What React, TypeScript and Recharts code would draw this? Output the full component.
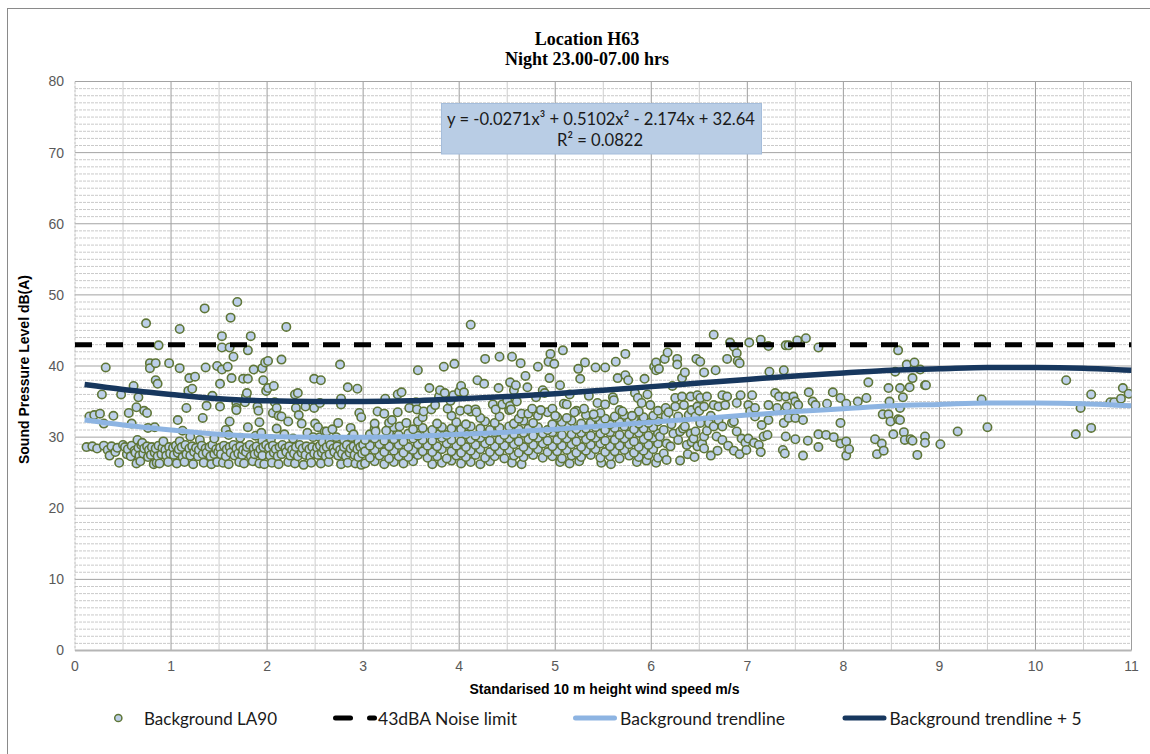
import { ComposedChart, Scatter, Line, XAxis, YAxis, CartesianGrid } from 'recharts'

// axis ticks
const xTicks = [0, 1, 2, 3, 4, 5, 6, 7, 8, 9, 10, 11]
const yTicks = [0, 10, 20, 30, 40, 50, 60, 70, 80]
const halfGridX = [0.5, 1.5, 2.5, 3.5, 4.5, 5.5, 6.5, 7.5, 8.5, 9.5, 10.5]
const minorGridY = Array.from({ length: 79 }, (_, i) => i + 1).filter((v) => v % 10 !== 0)

// Background LA90 measurements [wind m/s, dB(A)]
const la90Below1: [number, number][] = [
  [0.12, 28.6], [0.15, 32.9], [0.18, 28.7], [0.2, 33.1], [0.23, 28.4], [0.26, 33.3], [0.28, 36.0], [0.3, 28.8], [0.3, 31.9], [0.32, 39.8],
  [0.34, 28.2], [0.36, 27.4], [0.38, 28.7], [0.4, 33.0], [0.42, 27.9], [0.44, 28.5], [0.46, 26.4], [0.48, 36.0], [0.5, 28.9],
  [0.52, 28.6], [0.54, 27.6], [0.55, 28.3], [0.56, 33.4], [0.58, 27.3], [0.59, 28.8], [0.59, 31.9], [0.61, 37.2], [0.62, 28.1], [0.63, 27.8],
  [0.64, 26.3], [0.64, 34.2], [0.65, 29.6], [0.66, 28.5], [0.66, 35.6], [0.67, 27.4], [0.68, 26.6], [0.69, 28.9], [0.7, 29.2], [0.71, 27.7],
  [0.72, 28.4], [0.72, 33.7], [0.74, 46.0], [0.75, 28.7], [0.75, 33.4], [0.76, 27.2], [0.76, 31.3], [0.77, 28.2], [0.78, 40.4], [0.78, 39.7],
  [0.79, 27.5], [0.8, 28.6], [0.82, 26.2], [0.83, 27.8], [0.83, 31.4], [0.84, 28.4], [0.84, 40.4], [0.84, 38.0], [0.85, 26.4], [0.86, 27.3],
  [0.86, 37.5], [0.87, 28.8], [0.87, 42.9], [0.88, 26.3], [0.9, 27.6], [0.91, 28.5], [0.92, 29.4], [0.94, 28.2], [0.95, 27.4], [0.97, 26.5],
  [0.98, 28.6], [0.98, 40.4], [0.99, 27.7],
]

const la90From1: [number, number][] = [
  [1.02, 28.5], [1.03, 27.5], [1.05, 28.8], [1.06, 26.3], [1.07, 27.8], [1.07, 32.4], [1.08, 28.3], [1.09, 45.2], [1.09, 39.7], [1.09, 29.4],
  [1.11, 28.6], [1.12, 27.2], [1.12, 30.9], [1.14, 26.5], [1.15, 28.9], [1.16, 27.6], [1.16, 34.1], [1.18, 36.5], [1.19, 28.4], [1.19, 38.3],
  [1.2, 27.4], [1.2, 30.1], [1.22, 28.7], [1.22, 36.8], [1.23, 26.2], [1.24, 27.9], [1.25, 38.5], [1.26, 28.5], [1.28, 27.3], [1.29, 28.2],
  [1.3, 29.6], [1.32, 28.8], [1.33, 27.6], [1.33, 32.7], [1.34, 26.4], [1.35, 48.1], [1.36, 28.4], [1.36, 39.8], [1.37, 27.8], [1.37, 34.4],
  [1.4, 28.6], [1.41, 27.3], [1.42, 26.2], [1.43, 28.9], [1.43, 35.8], [1.45, 27.6], [1.45, 29.8], [1.47, 28.3], [1.48, 26.5], [1.48, 40.0],
  [1.49, 27.9],
  [1.51, 28.5], [1.51, 37.5], [1.51, 34.3], [1.52, 27.6], [1.53, 44.2], [1.53, 42.6], [1.53, 39.5], [1.54, 26.4], [1.55, 28.8], [1.57, 27.3],
  [1.57, 31.0], [1.58, 28.3], [1.59, 39.9], [1.6, 26.2], [1.6, 30.3], [1.61, 28.6], [1.61, 42.6], [1.61, 32.2], [1.62, 27.8], [1.62, 46.8],
  [1.63, 38.3], [1.65, 28.9], [1.65, 41.3], [1.66, 27.4], [1.68, 28.4], [1.68, 34.8], [1.68, 34.1], [1.68, 33.8], [1.69, 49.0], [1.7, 27.7],
  [1.71, 26.5], [1.72, 28.7], [1.72, 29.9], [1.74, 27.5], [1.75, 28.2], [1.75, 38.2], [1.76, 26.3], [1.77, 34.9], [1.78, 27.9], [1.78, 35.7],
  [1.79, 28.6], [1.79, 36.2], [1.8, 38.2], [1.8, 42.2], [1.8, 31.4], [1.82, 28.9], [1.83, 27.3], [1.83, 44.2], [1.85, 26.6], [1.86, 28.4],
  [1.86, 39.5], [1.87, 27.6], [1.88, 30.2], [1.89, 28.7], [1.9, 34.3], [1.91, 27.8], [1.91, 33.7], [1.92, 26.3], [1.92, 32.1], [1.93, 28.3],
  [1.94, 30.6], [1.95, 27.4], [1.95, 39.7], [1.95, 29.5], [1.96, 28.6], [1.96, 38.0], [1.97, 26.2], [1.98, 40.5], [1.99, 28.9], [1.99, 36.5],
]

const la90From2: [number, number][] = [
  [2.01, 40.7], [2.01, 36.9], [2.02, 28.5], [2.03, 27.4], [2.04, 29.7], [2.05, 26.4], [2.06, 28.8], [2.06, 33.4], [2.07, 27.8], [2.07, 37.2],
  [2.08, 34.9], [2.09, 28.3], [2.1, 34.1], [2.1, 31.2], [2.11, 27.3], [2.12, 26.2], [2.12, 33.0], [2.13, 28.6], [2.15, 27.6], [2.15, 40.9],
  [2.15, 32.9], [2.16, 28.9], [2.18, 30.4], [2.19, 28.4], [2.2, 27.9], [2.2, 45.5], [2.22, 26.5], [2.22, 32.2], [2.23, 28.7], [2.24, 27.4],
  [2.26, 28.2], [2.27, 29.8], [2.28, 27.7], [2.29, 26.3], [2.29, 36.0], [2.3, 28.6], [2.3, 34.1], [2.32, 27.3], [2.32, 36.2], [2.33, 33.1],
  [2.34, 28.9], [2.36, 27.8], [2.36, 31.9], [2.37, 28.4], [2.38, 26.1], [2.4, 27.5], [2.4, 34.3], [2.41, 28.7], [2.42, 30.6], [2.44, 28.3],
  [2.45, 27.2], [2.46, 26.4], [2.47, 28.6], [2.48, 30.0], [2.49, 27.7], [2.49, 38.2], [2.49, 34.1],
  [2.5, 31.9], [2.52, 28.5], [2.53, 27.5], [2.53, 31.4], [2.55, 28.8], [2.55, 34.8], [2.55, 30.0], [2.56, 26.3], [2.56, 38.0], [2.57, 27.8],
  [2.58, 29.3], [2.59, 28.3], [2.6, 30.8], [2.61, 27.3], [2.62, 28.6], [2.62, 30.8], [2.64, 26.5], [2.65, 27.6], [2.65, 29.5], [2.66, 28.9],
  [2.68, 31.1], [2.69, 28.4], [2.7, 27.9], [2.72, 30.0], [2.73, 28.7], [2.74, 27.4], [2.74, 32.0], [2.76, 28.2], [2.76, 40.2], [2.77, 26.2],
  [2.77, 35.4], [2.77, 34.6], [2.78, 27.7], [2.8, 28.6], [2.8, 29.6], [2.82, 27.3], [2.83, 28.9], [2.84, 26.4], [2.84, 37.0], [2.86, 27.8],
  [2.87, 28.4], [2.87, 31.3], [2.88, 30.0], [2.9, 28.7], [2.9, 30.4], [2.91, 27.5], [2.92, 26.3], [2.94, 28.3], [2.94, 36.8], [2.95, 27.2],
  [2.95, 29.3], [2.96, 33.4], [2.97, 28.6], [2.98, 26.1], [2.98, 32.8], [2.99, 27.7], [3.0, 28.9],
]

const la90From3: [number, number][] = [
  [3.02, 26.3], [3.12, 26.6], [3.22, 26.2], [3.32, 26.5], [3.42, 26.3], [3.52, 26.6], [3.72, 26.2], [3.82, 26.4], [3.92, 26.7], [4.02, 26.3],
  [4.12, 26.5], [4.22, 26.2], [4.32, 26.6], [4.55, 26.4], [4.65, 26.2], [5.05, 26.5], [5.15, 26.3], [5.25, 26.6], [5.48, 26.4], [5.58, 26.2],
  [5.85, 26.5], [5.95, 26.7], [6.05, 26.4],
  [3.07, 27.1], [3.17, 27.4], [3.27, 27.0], [3.37, 27.3], [3.47, 27.2], [3.57, 27.5], [3.67, 27.1], [3.77, 27.3], [3.87, 27.0], [3.97, 27.4],
  [4.07, 27.2], [4.17, 27.5], [4.27, 27.1], [4.37, 27.3], [4.47, 27.0], [4.57, 27.4], [4.67, 27.2], [4.77, 27.5], [4.87, 27.1], [4.97, 27.3],
  [5.07, 27.0], [5.17, 27.4], [5.27, 27.2], [5.37, 27.5], [5.47, 27.1], [5.57, 27.3], [5.67, 27.0], [5.77, 27.4], [5.87, 27.2], [5.97, 27.5],
  [6.07, 27.1],
  [3.02, 28.0], [3.12, 28.2], [3.22, 27.9], [3.32, 28.1], [3.42, 27.8], [3.52, 28.2], [3.62, 28.0], [3.72, 27.9], [3.82, 28.3], [3.92, 28.0],
  [4.02, 27.8], [4.12, 28.1], [4.22, 28.3], [4.32, 27.9], [4.42, 28.0], [4.52, 28.2], [4.62, 27.8], [4.72, 28.1], [4.82, 28.3], [4.92, 27.9],
  [5.02, 28.0], [5.12, 28.2], [5.22, 27.8], [5.32, 28.1], [5.42, 28.3], [5.52, 27.9], [5.62, 28.0], [5.72, 28.2], [5.82, 27.8], [5.92, 28.1],
  [6.02, 28.3],
  [3.07, 28.8], [3.17, 29.0], [3.27, 28.7], [3.37, 28.9], [3.47, 28.6], [3.57, 29.0], [3.67, 28.8], [3.77, 28.7], [3.87, 29.1], [3.97, 28.8],
  [4.07, 28.6], [4.17, 28.9], [4.27, 29.1], [4.37, 28.7], [4.47, 28.8], [4.57, 29.0], [4.67, 28.6], [4.77, 28.9], [4.87, 29.1], [4.97, 28.7],
  [5.07, 28.8], [5.17, 29.0], [5.27, 28.6], [5.37, 28.9], [5.47, 29.1], [5.57, 28.7], [5.67, 28.8], [5.77, 29.0], [5.87, 28.6], [5.97, 28.9],
  [6.07, 29.1],
  [3.02, 29.6], [3.12, 29.8], [3.22, 29.5], [3.32, 29.7], [3.42, 29.4], [3.52, 29.8], [3.62, 29.6], [3.72, 29.5], [3.82, 29.9], [3.92, 29.6],
  [4.02, 29.4], [4.12, 29.7], [4.22, 29.9], [4.32, 29.5], [4.42, 29.6], [4.52, 29.8], [4.62, 29.4], [4.72, 29.7], [4.82, 29.9], [4.92, 29.5],
  [5.02, 29.6], [5.12, 29.8], [5.22, 29.4], [5.32, 29.7], [5.42, 29.9], [5.52, 29.5], [5.62, 29.6], [5.72, 29.8], [5.82, 29.4], [5.92, 29.7],
  [6.02, 29.9],
  [3.07, 30.4], [3.27, 30.6], [3.37, 30.3], [3.47, 30.5], [3.57, 30.2], [3.67, 30.6], [3.77, 30.4], [3.87, 30.3], [3.97, 30.7], [4.07, 30.4],
  [4.17, 30.2], [4.27, 30.5], [4.37, 30.7], [4.47, 30.3], [4.57, 30.4], [4.67, 30.6], [4.77, 30.2], [4.87, 30.5], [4.97, 30.7], [5.07, 30.3],
  [5.17, 30.4], [5.27, 30.6], [5.37, 30.2], [5.47, 30.5], [5.57, 30.7], [5.67, 30.3], [5.77, 30.4], [5.87, 30.6], [5.97, 30.2], [6.07, 30.5],
  [3.12, 31.2], [3.32, 31.4], [3.52, 31.1], [3.62, 31.3], [3.72, 31.0], [3.82, 31.4], [3.92, 31.2], [4.02, 31.1], [4.12, 31.5], [4.22, 31.2],
  [4.32, 31.0], [4.42, 31.3], [4.52, 31.5], [4.62, 31.1], [4.72, 31.2], [4.82, 31.4], [4.92, 31.0], [5.02, 31.3], [5.12, 31.5], [5.22, 31.1],
  [5.32, 31.2], [5.42, 31.4], [5.52, 31.0], [5.62, 31.3], [5.72, 31.5], [5.82, 31.1], [5.92, 31.2], [6.02, 31.4],
  [3.27, 32.0], [3.57, 32.2], [3.77, 31.9], [3.97, 32.1], [4.07, 31.8], [4.27, 32.2], [4.37, 32.0], [4.57, 31.9], [4.67, 32.3], [4.77, 32.0],
  [4.97, 31.8], [5.07, 32.1], [5.17, 32.3], [5.27, 31.9], [5.37, 32.0], [5.47, 32.2], [5.57, 31.8], [5.67, 32.1], [5.77, 32.3], [5.87, 31.9],
  [5.97, 32.0], [6.07, 32.2],
  [3.62, 32.8], [3.92, 33.0], [4.22, 32.7], [4.42, 32.9], [4.62, 32.6], [4.82, 33.0], [5.02, 32.8], [5.12, 32.7], [5.32, 33.1], [5.42, 32.8],
  [5.52, 32.6], [5.62, 32.9], [5.72, 33.1], [5.82, 32.7], [5.92, 32.8], [6.02, 33.0],
  [4.12, 33.6], [4.52, 33.8], [4.92, 33.5], [5.22, 33.7], [5.47, 33.4], [5.67, 33.8], [5.87, 33.6], [6.07, 33.7],
  [3.12, 31.9], [3.13, 30.8], [3.15, 33.6], [3.22, 33.3], [3.23, 35.4], [3.24, 30.9], [3.3, 32.4], [3.36, 33.5], [3.36, 36.0], [3.38, 31.5],
  [3.4, 36.3], [3.45, 32.0], [3.48, 34.1], [3.55, 34.9], [3.56, 33.9], [3.57, 39.4], [3.63, 33.6], [3.69, 36.9], [3.71, 33.9], [3.75, 34.5],
  [3.79, 35.7], [3.8, 36.6], [3.84, 39.9], [3.85, 36.2], [3.88, 34.0], [3.91, 35.1], [3.94, 35.9], [3.95, 40.3],
  [4.0, 36.4], [4.01, 33.7], [4.02, 37.2], [4.05, 36.3], [4.09, 33.9], [4.12, 45.8], [4.17, 33.9], [4.18, 33.5], [4.19, 38.0], [4.26, 37.5],
  [4.27, 41.0], [4.35, 34.6], [4.38, 33.9], [4.41, 36.9], [4.42, 41.3], [4.45, 34.6], [4.5, 35.2], [4.53, 34.4], [4.53, 37.7], [4.54, 33.9],
  [4.55, 41.3], [4.57, 36.6], [4.59, 37.3], [4.6, 35.0], [4.64, 40.4], [4.65, 33.3], [4.69, 38.6], [4.71, 37.0], [4.72, 33.3], [4.76, 34.0],
  [4.8, 35.6], [4.82, 39.9], [4.85, 33.8], [4.87, 36.6], [4.89, 36.2], [4.93, 40.6], [4.94, 38.3], [4.95, 41.7], [4.97, 34.0], [4.99, 40.3],
  [5.0, 33.0], [5.05, 37.3], [5.08, 42.2], [5.09, 34.7], [5.12, 34.6], [5.15, 36.0], [5.2, 33.5], [5.24, 39.6], [5.26, 38.2], [5.3, 34.0],
  [5.31, 40.5], [5.35, 35.8], [5.4, 33.2], [5.42, 39.8], [5.44, 34.8], [5.52, 39.8], [5.52, 34.6], [5.6, 35.6], [5.61, 35.2], [5.63, 40.6],
  [5.65, 38.3], [5.7, 33.6], [5.73, 41.7], [5.73, 38.7], [5.76, 38.0], [5.8, 33.0], [5.83, 36.2], [5.86, 35.5], [5.9, 34.8], [5.93, 38.2],
  [5.96, 36.0], [5.99, 34.5], [6.03, 39.9], [6.05, 40.5], [6.05, 39.4], [6.08, 39.6],
]

const la90From6: [number, number][] = [
  [6.09, 30.1], [6.13, 31.0], [6.13, 27.7], [6.14, 41.0], [6.15, 34.1], [6.15, 32.9], [6.16, 29.1], [6.16, 26.8], [6.17, 41.9], [6.18, 33.5],
  [6.2, 28.7], [6.21, 31.8], [6.22, 37.2], [6.23, 30.5], [6.25, 35.5], [6.25, 34.3], [6.27, 41.0], [6.27, 40.2], [6.28, 32.9], [6.28, 29.6],
  [6.3, 30.8], [6.3, 26.7], [6.32, 35.7], [6.32, 38.3], [6.33, 31.2], [6.34, 34.5], [6.35, 39.1], [6.35, 31.5], [6.37, 28.9], [6.38, 27.6],
  [6.39, 33.1], [6.41, 35.7], [6.41, 30.5], [6.42, 33.8], [6.42, 29.3], [6.44, 29.8], [6.45, 27.2], [6.46, 32.9], [6.46, 30.8], [6.47, 41.0],
  [6.48, 35.9], [6.48, 34.3], [6.48, 28.7], [6.5, 33.7], [6.51, 35.5], [6.51, 40.6], [6.51, 32.0], [6.53, 29.1], [6.55, 34.3], [6.55, 39.1],
  [6.55, 30.1], [6.55, 28.4], [6.58, 35.7], [6.58, 30.9], [6.6, 32.0], [6.62, 27.4], [6.62, 33.0], [6.65, 44.4], [6.65, 34.5], [6.65, 31.5],
  [6.67, 39.4], [6.68, 30.1], [6.69, 28.1], [6.7, 34.3], [6.7, 32.4], [6.74, 35.9], [6.74, 31.5], [6.74, 29.6], [6.77, 34.5], [6.79, 35.7],
  [6.79, 41.0], [6.8, 28.8], [6.82, 43.3], [6.84, 32.0], [6.86, 42.7], [6.86, 32.2], [6.86, 28.1], [6.89, 41.8], [6.89, 34.8], [6.89, 30.8],
  [6.9, 40.7], [6.92, 40.4], [6.92, 27.6], [6.93, 35.9], [6.94, 29.8], [6.98, 29.2], [6.99, 28.2], [7.01, 34.5], [7.01, 29.8], [7.02, 43.3],
  [7.03, 33.6], [7.05, 35.9], [7.07, 29.2], [7.08, 34.1], [7.08, 32.9], [7.12, 28.9], [7.14, 43.7], [7.14, 27.9], [7.15, 31.7], [7.17, 30.1],
  [7.21, 30.3], [7.22, 42.8], [7.22, 34.5], [7.22, 32.4], [7.23, 39.2], [7.29, 36.2], [7.31, 34.1], [7.33, 35.7], [7.37, 28.2], [7.38, 39.4],
  [7.38, 32.0], [7.39, 27.7], [7.4, 42.9], [7.4, 35.7], [7.4, 30.1], [7.41, 34.3], [7.43, 42.9], [7.43, 32.7], [7.48, 35.7], [7.5, 35.0],
  [7.5, 32.7], [7.5, 29.7], [7.52, 43.6], [7.53, 34.5], [7.58, 32.4], [7.58, 27.4], [7.61, 43.9], [7.63, 29.5], [7.64, 36.3], [7.68, 35.0],
  [7.71, 34.5], [7.74, 42.6], [7.74, 30.4], [7.74, 28.6], [7.82, 30.3], [7.83, 34.7], [7.89, 36.3], [7.9, 30.0], [7.97, 35.5], [7.97, 32.0],
  [7.97, 29.1], [8.03, 34.7], [8.03, 29.4], [8.03, 27.4], [8.06, 28.3], [8.15, 35.0], [8.24, 35.5], [8.26, 37.7], [8.33, 29.7], [8.35, 27.6],
  [8.4, 29.1], [8.41, 33.2], [8.42, 28.1], [8.47, 36.9], [8.47, 33.2], [8.48, 35.0], [8.49, 32.2], [8.52, 30.4], [8.54, 39.2], [8.57, 42.2],
  [8.57, 32.5], [8.59, 36.9], [8.59, 34.1], [8.59, 32.4], [8.62, 35.6], [8.63, 30.7], [8.64, 29.6], [8.66, 40.2], [8.69, 37.0], [8.7, 29.7],
  [8.72, 38.3], [8.72, 29.5], [8.74, 40.5], [8.77, 27.5], [8.8, 39.5], [8.85, 37.3], [8.85, 30.1], [8.85, 29.2], [8.86, 37.3], [9.01, 29.0],
  [9.19, 30.8], [9.44, 35.3], [9.5, 31.4], [10.32, 38.0], [10.42, 30.4], [10.47, 34.1], [10.58, 31.3], [10.58, 36.0], [10.78, 34.9], [10.82, 34.9],
  [10.89, 35.4], [10.91, 36.9], [10.97, 36.1],
]

const la90 = [...la90Below1, ...la90From1, ...la90From2, ...la90From3, ...la90From6].map(([x, y]) => ({ x, y }))

// trendlines
const trendWind = [0.1, 0.5, 1, 1.5, 2, 2.5, 3, 3.5, 4, 4.5, 5, 5.5, 6, 6.5, 7, 7.5, 8, 8.5, 9, 9.5, 10, 10.5, 11]
const trendLevel = [32.4, 31.7, 31.0, 30.4, 30.1, 30.0, 30.0, 30.1, 30.4, 30.7, 31.1, 31.6, 32.1, 32.6, 33.1, 33.6, 34.0, 34.4, 34.6, 34.8, 34.8, 34.7, 34.4]
const trendPlus5Level = [37.4, 36.7, 36.0, 35.4, 35.1, 35.0, 35.0, 35.1, 35.4, 35.7, 36.1, 36.6, 37.1, 37.6, 38.1, 38.6, 39.0, 39.4, 39.6, 39.8, 39.8, 39.7, 39.4]
const limitWind = [0, 11]
const limitLevel = [43, 43]

const trend = trendWind.map((x, i) => ({ x, y: trendLevel[i] }))
const trendPlus5 = trendWind.map((x, i) => ({ x, y: trendPlus5Level[i] }))
const limit = limitWind.map((x, i) => ({ x, y: limitLevel[i] }))

const DOT_FILL = '#bccfe9'
const DOT_STROKE = '#5f7637'
const LIGHT = '#8db4e2'
const DARK = '#17375e'
const SANS = "'Liberation Sans', Arial, sans-serif"
const LEGEND_FONT = "Lato, 'Open Sans', sans-serif"
const W = 1150
const H = 754

const Dot = (p: any) => <circle cx={p.cx} cy={p.cy} r={4.2} fill={DOT_FILL} stroke={DOT_STROKE} strokeWidth={1.6} />

// grid line positions from the plot box
const xPos = (p: any, v: number) => p.offset.left + (v / 11) * p.offset.width
const yPos = (p: any, v: number) => p.offset.top + (1 - v / 80) * p.offset.height

export default function App() {
  return (
    <div style={{ position: 'absolute', left: 0, top: 0, width: W, height: H, background: '#fff', overflow: 'hidden' }}>
      <div style={{ position: 'absolute', left: 7, top: 8, width: 1160, height: 760, borderLeft: '1px solid #8a8a8a', borderTop: '1px solid #8a8a8a' }} />

      {/* grid, axes and measured points */}
      <div style={{ position: 'absolute', left: 0, top: 0 }}>
        <ComposedChart width={W} height={H} margin={{ top: 81.5, right: 18.5, left: 0, bottom: 73.5 }}>
          <CartesianGrid vertical={false} stroke="#cacaca" strokeDasharray="3 1"
            horizontalCoordinatesGenerator={(p: any) => minorGridY.map((v) => yPos(p, v))} />
          <CartesianGrid horizontal={false} stroke="#cdcdcd"
            verticalCoordinatesGenerator={(p: any) => halfGridX.map((v) => xPos(p, v))} />
          <CartesianGrid horizontal={false} stroke="#9d9d9d"
            verticalCoordinatesGenerator={(p: any) => xTicks.slice(1).map((v) => xPos(p, v))} />
          <CartesianGrid vertical={false} stroke="#a3a3a3"
            horizontalCoordinatesGenerator={(p: any) => yTicks.slice(1).map((v) => yPos(p, v))} />
          <XAxis dataKey="x" type="number" domain={[0, 11]} ticks={xTicks} interval={0} allowDataOverflow
            height={30} tickLine={false} tickSize={0} tickMargin={11}
            axisLine={{ stroke: '#b5b5b5', strokeWidth: 2 }}
            tick={{ fill: '#595959', fontSize: 14, fontFamily: SANS }} />
          <YAxis type="number" domain={[0, 80]} ticks={yTicks} interval={0} allowDataOverflow
            width={75} tickLine={false} tickSize={0} tickMargin={11}
            axisLine={{ stroke: '#b8b8b8', strokeDasharray: '3 1' }}
            tick={{ fill: '#595959', fontSize: 14, fontFamily: SANS }} />
          <Scatter data={la90} dataKey="y" shape={Dot} isAnimationActive={false} />
        </ComposedChart>
      </div>

      {/* limit and trend lines drawn above the points, same plot box */}
      <div style={{ position: 'absolute', left: 0, top: 0 }}>
        <ComposedChart width={W} height={H} margin={{ top: 81.5, right: 18.5, left: 75, bottom: 103.5 }}>
          <XAxis dataKey="x" type="number" domain={[0, 11]} allowDataOverflow hide />
          <YAxis type="number" domain={[0, 80]} allowDataOverflow hide />
          <Line data={limit} dataKey="y" type="linear" stroke="#000" strokeWidth={5} strokeDasharray="17 14"
            dot={false} activeDot={false} isAnimationActive={false} />
          <Line data={trend} dataKey="y" type="monotone" stroke={LIGHT} strokeWidth={5}
            dot={false} activeDot={false} isAnimationActive={false} />
          <Line data={trendPlus5} dataKey="y" type="monotone" stroke={DARK} strokeWidth={5.5}
            dot={false} activeDot={false} isAnimationActive={false} />
        </ComposedChart>
      </div>

      <svg width={W} height={H} style={{ position: 'absolute', left: 0, top: 0, pointerEvents: 'none' }}>
        <text x={587} y={45} textAnchor="middle" fontFamily="'Liberation Serif', 'Times New Roman', serif" fontWeight="bold" fontSize={18} fill="#000">Location H63</text>
        <text x={587} y={65} textAnchor="middle" fontFamily="'Liberation Serif', 'Times New Roman', serif" fontWeight="bold" fontSize={18} fill="#000">Night 23.00-07.00 hrs</text>
        <text transform="translate(29,369.5) rotate(-90)" textAnchor="middle" fontFamily={SANS} fontWeight="bold" fontSize={14} fill="#000">Sound Pressure Level dB(A)</text>
        <text x={604.5} y={693.5} textAnchor="middle" fontFamily={SANS} fontWeight="bold" fontSize={14} fill="#000">Standarised 10 m height wind speed m/s</text>

        <rect x={441.5} y={103.5} width={320} height={50.5} fill="#b9cde5" stroke="#a5bddb" strokeWidth={1} />
        <text x={601} y={125} textAnchor="middle" fontFamily={LEGEND_FONT} fontSize={18} fill="#1a1a1a" textLength={308} lengthAdjust="spacingAndGlyphs">y = -0.0271x³ + 0.5102x² - 2.174x + 32.64</text>
        <text x={600} y={145.5} textAnchor="middle" fontFamily={LEGEND_FONT} fontSize={18} fill="#1a1a1a" textLength={86} lengthAdjust="spacingAndGlyphs">R² = 0.0822</text>

        <circle cx={118.3} cy={718} r={3.6} fill={DOT_FILL} stroke={DOT_STROKE} strokeWidth={1.5} />
        <text x={144} y={725} fontFamily={LEGEND_FONT} fontSize={18} fill="#1a1a1a" textLength={133} lengthAdjust="spacingAndGlyphs">Background LA90</text>
        <line x1={335.5} y1={718} x2={350.5} y2={718} stroke="#000" strokeWidth={5} strokeLinecap="round" />
        <line x1={369.5} y1={718} x2={374.5} y2={718} stroke="#000" strokeWidth={5} strokeLinecap="round" />
        <text x={378} y={725} fontFamily={LEGEND_FONT} fontSize={18} fill="#1a1a1a" textLength={139} lengthAdjust="spacingAndGlyphs">43dBA Noise limit</text>
        <line x1={575.5} y1={718} x2={614.5} y2={718} stroke={LIGHT} strokeWidth={5} strokeLinecap="round" />
        <text x={620} y={725} fontFamily={LEGEND_FONT} fontSize={18} fill="#1a1a1a" textLength={165} lengthAdjust="spacingAndGlyphs">Background trendline</text>
        <line x1={845} y1={718} x2={884} y2={718} stroke={DARK} strokeWidth={5} strokeLinecap="round" />
        <text x={889.5} y={725} fontFamily={LEGEND_FONT} fontSize={18} fill="#1a1a1a" textLength={192} lengthAdjust="spacingAndGlyphs">Background trendline + 5</text>
      </svg>
    </div>
  )
}
